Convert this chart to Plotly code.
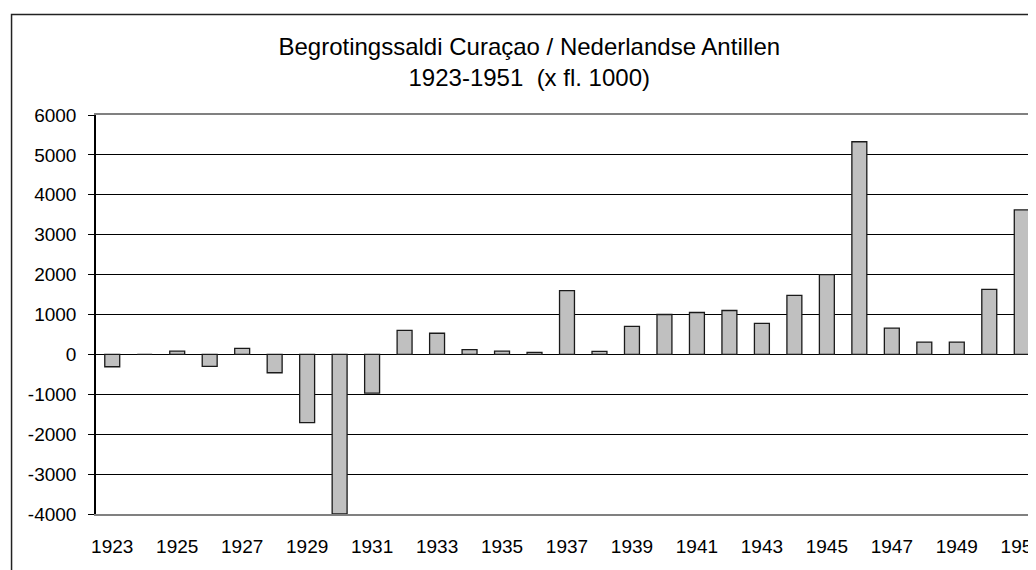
import plotly.graph_objects as go

# --------- DATA ---------
YEARS = list(range(1923, 1952))
SALDO = [
    -310, 0, 80, -300, 150, -460, -1710, -4000, -970, 600,
    530, 120, 80, 50, 1600, 75, 700, 1000, 1050, 1100,
    780, 1480, 2000, 5330, 660, 310, 310, 1630, 3620,
]
TICK_YEARS = YEARS[::2]
Y_TICKS = list(range(-4000, 6001, 1000))
TITLE = "Begrotingssaldi Curaçao / Nederlandse Antillen<br>1923-1951  (x fl. 1000)"
# -------------------------

OFF = 8  # page body margin
W, H = 1036 - OFF, 570 - OFF
PLOT_L, PLOT_T, PLOT_B = 95.5 - OFF, 114.7 - OFF, 514.3 - OFF
CAT_W = 32.5
FONT = "Liberation Sans, Arial"

fig = go.Figure()
fig.add_trace(go.Bar(
    x=YEARS, y=SALDO,
    marker=dict(color="#c0c0c0", line=dict(color="#1a1a1a", width=1.3)),
    hovertemplate="%{x}: %{y:,.0f}<extra></extra>",
))

x_right = YEARS[0] - 0.5 + (W - PLOT_L) / CAT_W

fig.update_xaxes(
    range=[YEARS[0] - 0.5, x_right], automargin=False,
    tickvals=TICK_YEARS, ticktext=[str(y) for y in TICK_YEARS],
    ticks="outside", ticklen=14, tickcolor="rgba(0,0,0,0)",
    ticklabeloverflow="allow",
    showline=True, linecolor="#808080", linewidth=1.5, mirror=True,
    showgrid=False, zeroline=False,
    tickfont=dict(family=FONT, size=19, color="black"),
)
fig.update_yaxes(
    range=[-4000, 6000], automargin=False,
    tickvals=Y_TICKS, ticktext=[str(v) for v in Y_TICKS],
    showgrid=True, gridcolor="black", gridwidth=1,
    zeroline=True, zerolinecolor="black", zerolinewidth=1,
    showline=True, linecolor="black", linewidth=1.5,
    ticks="outside", ticklen=6, tickcolor="black",
    ticklabelstandoff=8,
    tickfont=dict(family=FONT, size=19, color="black"),
)

# outer chart frame (runs off the right and bottom edge)
plot_w = W - PLOT_L
plot_h = PLOT_B - PLOT_T
fig.add_shape(
    type="rect", xref="paper", yref="paper", layer="below",
    x0=(11 - OFF - PLOT_L) / plot_w, x1=1.2,
    y0=-0.5, y1=(PLOT_B - (14 - OFF)) / plot_h,
    line=dict(color="#222", width=1.5), fillcolor="rgba(0,0,0,0)",
)

fig.update_layout(
    width=W, height=H,
    margin=dict(l=PLOT_L, r=0, t=PLOT_T, b=H - PLOT_B),
    paper_bgcolor="white", plot_bgcolor="white",
    bargap=0.54, showlegend=False,
    title=dict(
        text=TITLE, xref="paper", x=(529 - OFF - PLOT_L) / plot_w, xanchor="center",
        yref="container", y=1 - 47 / H, yanchor="middle",
        font=dict(family=FONT, size=24, color="black"),
    ),
)

fig.write_html("out.html")
